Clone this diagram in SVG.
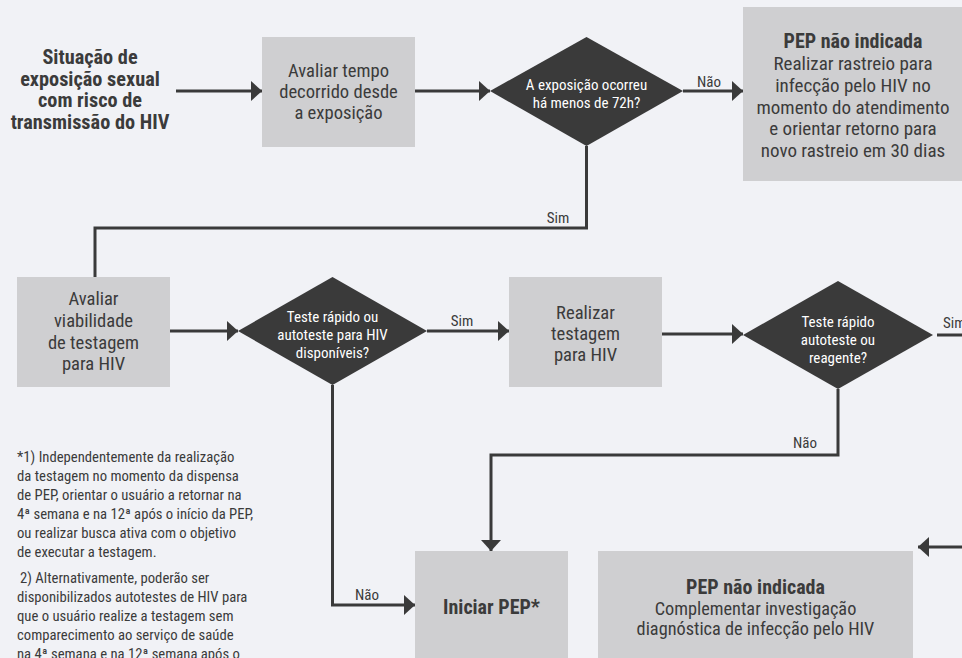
<svg xmlns="http://www.w3.org/2000/svg" width="962" height="658" viewBox="0 0 962 658">
<defs>
<style>
text{font-family:'Roboto Condensed','Liberation Sans Narrow','DejaVu Sans Condensed',sans-serif;fill:#3b3b3b;}
.t{font-size:20.3px;font-weight:bold;text-anchor:middle;}
.b{font-size:18.6px;text-anchor:middle;}
.br{font-size:19px;text-anchor:middle;}
.bs{font-size:18.3px;text-anchor:middle;}
.bb{font-size:20px;font-weight:bold;text-anchor:middle;}
.d{font-size:15px;fill:#ffffff;text-anchor:middle;}
.l{font-size:15px;text-anchor:middle;}
.e{font-size:15px;}
.f{font-size:14.7px;}
.box{fill:#cfcfd1;}
.dia{fill:#3a3a3a;}
.c{fill:none;stroke:#3a3a3a;stroke-width:3;}
</style>
<marker id="ah" markerUnits="userSpaceOnUse" markerWidth="11" markerHeight="20" refX="11" refY="10" orient="auto">
<path d="M0,0 L11,10 L0,20 Z" fill="#3a3a3a"/>
</marker>
</defs>
<rect width="962" height="658" fill="#f1f2f6"/>

<g id="connectors">
<path class="c" d="M176,91 H262" marker-end="url(#ah)"/>
<path class="c" d="M415,91 H490" marker-end="url(#ah)"/>
<path class="c" d="M683,91 H743" marker-end="url(#ah)"/>
<path class="c" d="M586.5,146 V228 H95 V277"/>
<path class="c" d="M170,331 H238" marker-end="url(#ah)"/>
<path class="c" d="M427,331 H509" marker-end="url(#ah)"/>
<path class="c" d="M662,334 H743" marker-end="url(#ah)"/>
<path class="c" d="M937,335 H962"/>
<path class="c" d="M838,389 V455 H491 V551" marker-end="url(#ah)"/>
<path class="c" d="M332.5,385 V605 H415" marker-end="url(#ah)"/>
<path class="c" d="M962,547 H918" marker-end="url(#ah)"/>
<text class="l" x="709" y="87">Não</text>
<text class="l" x="558" y="223">Sim</text>
<text class="l" x="462" y="326">Sim</text>
<text class="e" x="943" y="328">Sim</text>
<text class="l" x="805" y="448">Não</text>
<text class="l" x="367" y="600">Não</text>
</g>

<g id="start">
<text class="t" x="90" y="64">Situação de</text>
<text class="t" x="90" y="85.5">exposição sexual</text>
<text class="t" x="90" y="107">com risco de</text>
<text class="t" x="90" y="128.5">transmissão do HIV</text>
</g>

<g id="avaliar-tempo">
<rect class="box" x="262" y="37" width="153" height="110"/>
<text class="b" x="338.5" y="77">Avaliar tempo</text>
<text class="b" x="338.5" y="98">decorrido desde</text>
<text class="b" x="338.5" y="119">a exposição</text>
</g>

<g id="decisao-72h">
<polygon class="dia" points="490,91 586.5,37 683,91 586.5,146"/>
<text class="d" x="586.5" y="90">A exposição ocorreu</text>
<text class="d" x="586.5" y="108">há menos de 72h?</text>
</g>

<g id="pep-nao-indicada-1">
<rect class="box" x="743" y="7" width="219" height="174"/>
<text class="bb" x="853" y="48">PEP não indicada</text>
<text class="br" x="853" y="70">Realizar rastreio para</text>
<text class="br" x="853" y="92">infecção pelo HIV no</text>
<text class="br" x="853" y="114">momento do atendimento</text>
<text class="br" x="853" y="135">e orientar retorno para</text>
<text class="br" x="853" y="157">novo rastreio em 30 dias</text>
</g>

<g id="avaliar-viabilidade">
<rect class="box" x="17" y="277" width="153" height="110"/>
<text class="b" x="93.5" y="305">Avaliar</text>
<text class="b" x="93.5" y="327">viabilidade</text>
<text class="b" x="93.5" y="349">de testagem</text>
<text class="b" x="93.5" y="370">para HIV</text>
</g>

<g id="decisao-teste-disponivel">
<polygon class="dia" points="238,331 332.5,277 427,331 332.5,385"/>
<text class="d" x="332.5" y="322">Teste rápido ou</text>
<text class="d" x="332.5" y="340">autoteste para HIV</text>
<text class="d" x="332.5" y="358">disponíveis?</text>
</g>

<g id="realizar-testagem">
<rect class="box" x="509" y="277" width="153" height="110"/>
<text class="b" x="585.5" y="319">Realizar</text>
<text class="b" x="585.5" y="340">testagem</text>
<text class="b" x="585.5" y="361">para HIV</text>
</g>

<g id="decisao-reagente">
<polygon class="dia" points="743,335 838,281 933,335 838,389"/>
<text class="d" x="838" y="327">Teste rápido</text>
<text class="d" x="838" y="345">autoteste ou</text>
<text class="d" x="838" y="363">reagente?</text>
</g>

<g id="iniciar-pep">
<rect class="box" x="415" y="551" width="153" height="120"/>
<text class="bb" x="491.5" y="614">Iniciar PEP*</text>
</g>

<g id="pep-nao-indicada-2">
<rect class="box" x="598" y="551" width="315" height="120"/>
<text class="bb" x="755.5" y="594">PEP não indicada</text>
<text class="bs" x="755.5" y="615">Complementar investigação</text>
<text class="bs" x="755.5" y="635">diagnóstica de infecção pelo HIV</text>
</g>

<g id="nota">
<text class="f" x="17" y="461.5">*1) Independentemente da realização</text>
<text class="f" x="17" y="480.5">da testagem no momento da dispensa</text>
<text class="f" x="17" y="499.5">de PEP, orientar o usuário a retornar na</text>
<text class="f" x="17" y="518.5">4ª semana e na 12ª após o início da PEP,</text>
<text class="f" x="17" y="537.5">ou realizar busca ativa com o objetivo</text>
<text class="f" x="17" y="556.5">de executar a testagem.</text>
<text class="f" x="20" y="583">2) Alternativamente, poderão ser</text>
<text class="f" x="17" y="602">disponibilizados autotestes de HIV para</text>
<text class="f" x="17" y="621">que o usuário realize a testagem sem</text>
<text class="f" x="17" y="640">comparecimento ao serviço de saúde</text>
<text class="f" x="17" y="659">na 4ª semana e na 12ª semana após o</text>
</g>
</svg>
